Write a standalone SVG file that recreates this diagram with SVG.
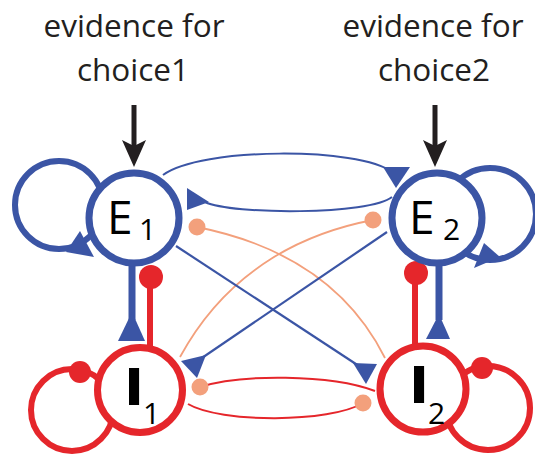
<svg xmlns="http://www.w3.org/2000/svg" width="535" height="460" viewBox="0 0 535 460">
<style>
.lbl{font-family:"Open Sans","Liberation Sans",sans-serif;fill:#231f20;text-anchor:middle;font-size:31.5px}
.nE{font-family:"Open Sans","Liberation Sans",sans-serif;fill:#000;font-size:46px}
.nI{font-family:"Open Sans","Liberation Sans",sans-serif;fill:#000;font-size:52px;font-weight:800}
.sub{font-family:"Open Sans","Liberation Sans",sans-serif;fill:#000;font-size:30px}
.bl{stroke:#3b55a5;fill:none}
.rd{stroke:#e5262b;fill:none}
.or{stroke:#f3a07c;fill:none;stroke-width:1.8}
.tb{fill:#3b55a5}
.dr{fill:#e5262b}
.do{fill:#f3a07c}
.nodeE{fill:#fff;stroke:#3b55a5;stroke-width:7}
.nodeI{fill:#fff;stroke:#e5262b;stroke-width:7}
</style>
<rect width="535" height="460" fill="#fff"/>
<g id="labels">
<text class="lbl" x="134" y="37">evidence for</text>
<text class="lbl" x="133" y="81">choice1</text>
<text class="lbl" x="433" y="37">evidence for</text>
<text class="lbl" x="434" y="81">choice2</text>
</g>
<g id="connectors">
<!-- input arrows -->
<line x1="134" y1="105" x2="134" y2="148" stroke="#231f20" stroke-width="5"/>
<path d="M122,140 L134,146 L146,140 L134,167 Z" fill="#231f20"/>
<line x1="435" y1="105" x2="435" y2="148" stroke="#231f20" stroke-width="5"/>
<path d="M423,140 L435,146 L447,140 L435,167 Z" fill="#231f20"/>
<!-- self loops -->
<circle class="bl" cx="59" cy="205" r="44" stroke-width="6"/>
<polygon class="tb" points="80,231 94,257 66,252"/>
<circle class="bl" cx="490" cy="214" r="46" stroke-width="6"/>
<polygon class="tb" points="474,268 484,243 500,257"/>
<circle class="rd" cx="72" cy="410" r="41" stroke-width="6"/>
<circle class="dr" cx="80" cy="372" r="11"/>
<circle class="rd" cx="488" cy="408" r="42" stroke-width="6"/>
<circle class="dr" cx="482" cy="368" r="11"/>
<!-- E1 <-> E2 -->
<path class="bl" stroke-width="2" d="M163,175 C200,147 360,147 392,172"/>
<polygon class="tb" points="383,167 410,167 396,188"/>
<path class="bl" stroke-width="2" d="M392,197 C370,215 232,215 205,202"/>
<polygon class="tb" points="187,188 187,210 209,202"/>
<!-- vertical E-I -->
<line class="bl" x1="132" y1="262" x2="132" y2="320" stroke-width="7"/>
<polygon class="tb" points="132,312 118,341 145,341"/>
<line class="rd" x1="150" y1="277" x2="150" y2="346" stroke-width="6"/>
<circle class="dr" cx="151" cy="277" r="12"/>
<line class="bl" x1="439" y1="262" x2="439" y2="320" stroke-width="7"/>
<polygon class="tb" points="439,314 426,339 450,339"/>
<line class="rd" x1="415" y1="273" x2="415" y2="345" stroke-width="6"/>
<circle class="dr" cx="416" cy="273" r="12"/>
<!-- orange cross curves -->
<path class="or" d="M197,227 C262,240 342,272 385,358"/>
<circle class="do" cx="197" cy="227" r="8.5"/>
<path class="or" d="M373,220 C310,232 230,265 180,357"/>
<circle class="do" cx="373" cy="220" r="8.5"/>
<!-- blue cross lines -->
<line class="bl" stroke-width="2.2" x1="176" y1="246" x2="362" y2="368"/>
<polygon class="tb" points="353,363 377,364 366,384"/>
<line class="bl" stroke-width="2.2" x1="387" y1="232" x2="196" y2="362"/>
<polygon class="tb" points="181,361 206,355 197,378"/>
<!-- I1 <-> I2 -->
<path class="rd" stroke-width="2" d="M375,391 C330,374 240,374 200,387"/>
<circle class="do" cx="200" cy="387" r="8.5"/>
<path class="rd" stroke-width="2" d="M188,404 C220,423 330,423 363,403"/>
<circle class="do" cx="363" cy="403" r="8.5"/>
</g>
<g id="E1">
<circle class="nodeE" cx="134" cy="218" r="45"/>
<text class="nE" x="107" y="234">E</text>
<text class="sub" x="139" y="240">1</text>
</g>
<g id="E2">
<circle class="nodeE" cx="437" cy="218" r="45"/>
<text class="nE" x="409" y="234">E</text>
<text class="sub" x="443" y="240">2</text>
</g>
<g id="I1">
<circle class="nodeI" cx="140" cy="390" r="42.5"/>
<text class="nI" x="125" y="405">I</text>
<text class="sub" x="143" y="424">1</text>
</g>
<g id="I2">
<circle class="nodeI" cx="423" cy="389" r="43"/>
<text class="nI" x="410" y="403">I</text>
<text class="sub" x="428" y="424">2</text>
</g>
</svg>
